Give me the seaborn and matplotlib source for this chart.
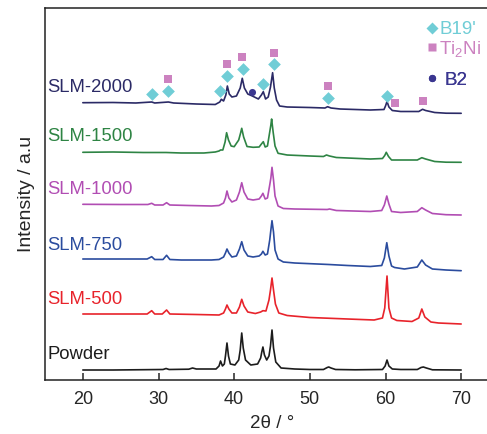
import matplotlib
matplotlib.use("Agg")
import matplotlib.pyplot as plt
from matplotlib.lines import Line2D
import seaborn as sns
import pandas as pd

# ---------------- data (2theta in degrees, intensity in a.u. incl. stacking offset) ----------------
powder_x = [20, 24, 28, 30.6, 31, 31.4, 34, 34.5, 35, 37.6, 38.0, 38.2, 38.45, 38.7, 38.85, 39.05, 39.25, 39.5,
            40.1, 40.6, 40.8, 41.0, 41.2, 41.5, 42.2, 43.1, 43.5, 43.65, 43.8, 44.0, 44.3, 44.6, 44.8, 45.0,
            45.2, 45.5, 46.2, 48, 50, 51.8, 52.3, 52.5, 52.8, 53.4, 56, 59.6, 59.95, 60.2, 60.45, 60.9, 62,
            64.2, 64.7, 65, 65.4, 66.2, 70]
powder_y = [10, 10, 10.3, 10.5, 11.5, 10.5, 10.8, 12, 11, 11, 14, 19, 14, 16, 24, 37, 24, 16,
            15, 20, 30, 47, 32, 20, 15, 16, 22, 28, 33, 25, 20, 24, 34, 50,
            32, 18, 12, 11, 10.5, 10.5, 12.5, 13, 12, 10.5, 10.2, 10.5, 14, 20, 14, 11, 10.5,
            10.5, 12.5, 13, 12, 10.2, 10]

slm500_x = [20, 25, 28.5, 29.1, 29.5, 30.5, 31.07, 31.5, 35, 38, 38.6, 38.85, 39.05, 39.3, 39.7, 40.3, 40.7,
            41.0, 41.3, 41.8, 42.8, 43.5, 43.8, 44.2, 44.6, 44.8, 45.0, 45.2, 45.45, 45.9, 47, 50, 55, 58.5,
            59.6, 59.9, 60.2, 60.45, 60.8, 61.5, 63.5, 64.4, 64.8, 65.2, 66, 67, 70]
slm500_y = [66, 66, 66, 69.3, 66, 66, 70, 66, 65.5, 65, 67, 71, 75, 71, 67, 67, 73,
            80.7, 74, 68, 66.5, 68, 69.3, 69, 80, 90, 102, 90, 76, 67, 64.5, 62.5, 61, 60,
            62, 72, 104, 72, 62, 59.5, 58.5, 62, 71, 63, 58, 57, 56]

slm750_x = [20, 25, 28.5, 29.1, 29.5, 30.6, 31.07, 31.5, 33, 37, 38, 38.6, 38.85, 39.05, 39.3, 39.7, 40.3,
            40.7, 41.0, 41.3, 41.8, 42.5, 43.3, 43.6, 43.8, 44.1, 44.4, 44.7, 44.85, 45.0, 45.2, 45.4, 45.8,
            46.5, 48, 52.5, 55, 58, 59.5, 59.85, 60.17, 60.45, 60.8, 61.2, 62.5, 64.2, 64.8, 65.3, 66.2, 68, 70]
slm750_y = [121, 121, 121, 123.3, 120.5, 120.5, 124.7, 120.5, 120, 120, 120.5, 123, 127, 131, 127, 123, 124,
            131, 138.3, 130, 124, 123, 124, 126, 128.7, 125, 126, 140, 150, 159.3, 148, 130, 121,
            118, 117, 115.5, 114.5, 113.5, 114.5, 122, 137.3, 124, 114, 112.5, 111, 113, 120, 115, 111, 110, 109.3]

slm1000_x = [20, 25, 28.6, 29.1, 29.5, 30.6, 31.07, 31.5, 34, 37, 38, 38.6, 38.85, 39.05, 39.3, 39.7, 40.3,
             40.7, 41.0, 41.3, 41.8, 42.5, 43.3, 43.6, 43.8, 44.1, 44.4, 44.7, 44.85, 45.0, 45.2, 45.4, 45.8,
             46.5, 48, 52.3, 52.6, 53.5, 58, 59.5, 59.85, 60.17, 60.45, 60.8, 62, 64.2, 64.8, 65.3, 66.2, 68, 70]
slm1000_y = [175.7, 175.5, 175.5, 176.7, 175, 175, 177.3, 175, 174.5, 174, 174.5, 177, 182, 189, 182, 178, 180,
             188, 197.3, 188, 181, 180, 181, 184, 186.7, 181, 182, 195, 202, 212.7, 200, 184, 174,
             171.5, 171, 170.5, 171, 169.5, 168.5, 169.5, 175, 184, 176, 168.5, 167.5, 168.5, 172.3, 170, 166.5,
             165.3, 165]

slm1500_x = [20, 24, 28, 31, 33, 36, 37.5, 38.0, 38.2, 38.5, 38.8, 39.0, 39.25, 39.6, 40.0, 40.6, 40.85, 41.0,
             41.25, 41.7, 42.5, 43.3, 43.6, 43.85, 44.1, 44.4, 44.7, 44.85, 44.95, 45.15, 45.4, 45.8, 47, 50,
             51.8, 52.2, 52.6, 53.5, 58, 59.6, 59.9, 60.1, 60.4, 60.8, 62.5, 64.2, 64.8, 65.3, 66.5, 68, 70]
slm1500_y = [227.7, 228, 227.5, 227.5, 227, 227, 228, 229, 230, 230, 238, 247.3, 240, 234, 233.3, 240, 247, 251.7,
             243, 233.5, 232.7, 233, 236, 238.3, 233, 234, 248, 255, 261, 248, 234, 226.7, 225, 224,
             223.5, 225, 224, 222.5, 221, 221.5, 224.5, 227.7, 223.5, 220, 220, 220, 222.3, 221, 218.5, 217.8, 217.7]

slm2000_x = [20, 24, 27, 29.1, 29.5, 31.3, 32, 35, 37.5, 38.1, 38.3, 38.6, 38.9, 39.1, 39.35, 39.7, 40.3, 40.8,
             41.07, 41.35, 41.8, 42.4, 43.2, 43.6, 43.85, 44.15, 44.5, 44.8, 45.08, 45.3, 45.6, 46, 47, 50, 52,
             52.35, 52.8, 54, 58, 59.8, 60.0, 60.2, 60.45, 60.9, 62, 64.4, 64.9, 65.3, 66.5, 68, 70]
slm2000_y = [277.3, 277.5, 277, 278, 277, 278, 277, 276, 275.5, 278, 280.7, 279, 285, 294, 286, 283, 284, 292,
             301.7, 292, 286, 284, 281, 285, 288.3, 281, 283, 293, 307.3, 292, 280, 274, 273, 272.5, 272,
             273.3, 272, 271, 270, 270.5, 274, 278.5, 273, 269.5, 268.5, 268.5, 270.7, 269.5, 267.5, 266.8, 266.7]

samples = ["Powder", "SLM-500", "SLM-750", "SLM-1000", "SLM-1500", "SLM-2000"]
sample_x = [powder_x, slm500_x, slm750_x, slm1000_x, slm1500_x, slm2000_x]
sample_y = [powder_y, slm500_y, slm750_y, slm1000_y, slm1500_y, slm2000_y]
label_y = [25.7, 80, 134.3, 190, 243.3, 292]

# phase markers above the SLM-2000 pattern
b19_x = [29.14, 31.3, 38.1, 39.1, 41.2, 43.85, 45.2, 52.36, 60.25]
b19_y = [286, 289.3, 289.3, 304, 311, 295.7, 315.7, 282.3, 284.3]
ti2ni_x = [31.3, 39.1, 41.07, 45.26, 52.36, 61.2, 64.9]
ti2ni_y = [301, 316, 323.3, 327.3, 294, 276.7, 279.3]
b2_x = [42.4]
b2_y = [288.3]

phase_labels = ["B19'", "Ti$_2$Ni", "B2"]
xticks = [20, 30, 40, 50, 60, 70]

# ---------------- style ----------------
colors = {"Powder": "#1c1c1c", "SLM-500": "#e8232b", "SLM-750": "#2b4c9e",
          "SLM-1000": "#b14db3", "SLM-1500": "#2e8444", "SLM-2000": "#2b2a66"}
c_b19 = "#70cdd6"
c_ti2ni = "#cc82c0"
c_b2 = "#3a3690"

sns.set_style("ticks")
plt.rcParams["font.family"] = ["Liberation Sans", "DejaVu Sans"]
plt.rcParams["mathtext.fontset"] = "custom"
plt.rcParams["mathtext.rm"] = "Liberation Sans"
plt.rcParams["mathtext.it"] = "Liberation Sans:italic"

rows = []
for name, xs, ys in zip(samples, sample_x, sample_y):
    for a, b in zip(xs, ys):
        rows.append({"two_theta": a, "intensity": b, "sample": name})
df = pd.DataFrame(rows)

W, H = 487, 434
fig = plt.figure(figsize=(W / 100, H / 100), dpi=100)
ax = fig.add_axes([45 / W, 54 / H, 454 / W, 372 / H])

sns.lineplot(data=df, x="two_theta", y="intensity", hue="sample", palette=colors,
             estimator=None, sort=False, legend=False, linewidth=1.2, ax=ax)

sns.scatterplot(x=b19_x, y=b19_y, marker="D", s=42, color=c_b19, linewidth=0, ax=ax, zorder=5)
sns.scatterplot(x=ti2ni_x, y=ti2ni_y, marker="s", s=36, color=c_ti2ni, linewidth=0, ax=ax, zorder=5)
sns.scatterplot(x=b2_x, y=b2_y, marker="o", s=26, color=c_b2, linewidth=0, ax=ax, zorder=5)

for name, ly in zip(samples, label_y):
    ax.text(15.3, ly, name, color=colors[name], fontsize=13.3, ha="left", va="center")

ax.set_xlim(15, 75)
ax.set_ylim(0, 372)
ax.set_xticks(xticks)
ax.set_xticklabels([str(t) for t in xticks])
ax.set_yticks([])
ax.tick_params(axis="x", direction="in", length=5, width=1.1, labelsize=13, pad=8)
for sp in ax.spines.values():
    sp.set_linewidth(1.1)
    sp.set_color("#222222")
ax.set_xlabel("2θ / °", fontsize=13.5, labelpad=5)
ax.set_ylabel("Intensity / a.u", fontsize=14, labelpad=7)

# phase key: one row per phase, placed individually
key_handles = [Line2D([], [], marker="D", ls="", color=c_b19, ms=6.6, mec="none"),
               Line2D([], [], marker="s", ls="", color=c_ti2ni, ms=6.0, mec="none"),
               Line2D([], [], marker="o", ls="", color=c_b2, ms=5.2, mec="none")]
key_colors = [c_b19, c_ti2ni, c_b2]
key_rows_px = [29.5, 49, 80]
key_pads = [0.1, 0.1, 0.4]
for h, lab, c, yc, pd_ in zip(key_handles, phase_labels, key_colors, key_rows_px, key_pads):
    lg = ax.legend([h], [lab], loc="center left",
                   bbox_to_anchor=(426 / W, 1 - yc / H), bbox_transform=fig.transFigure,
                   frameon=False, fontsize=13.5, handlelength=0.6, handletextpad=pd_,
                   borderpad=0, borderaxespad=0)
    lg.get_texts()[0].set_color(c)
    ax.add_artist(lg)

fig.savefig("out.png", dpi=100)
